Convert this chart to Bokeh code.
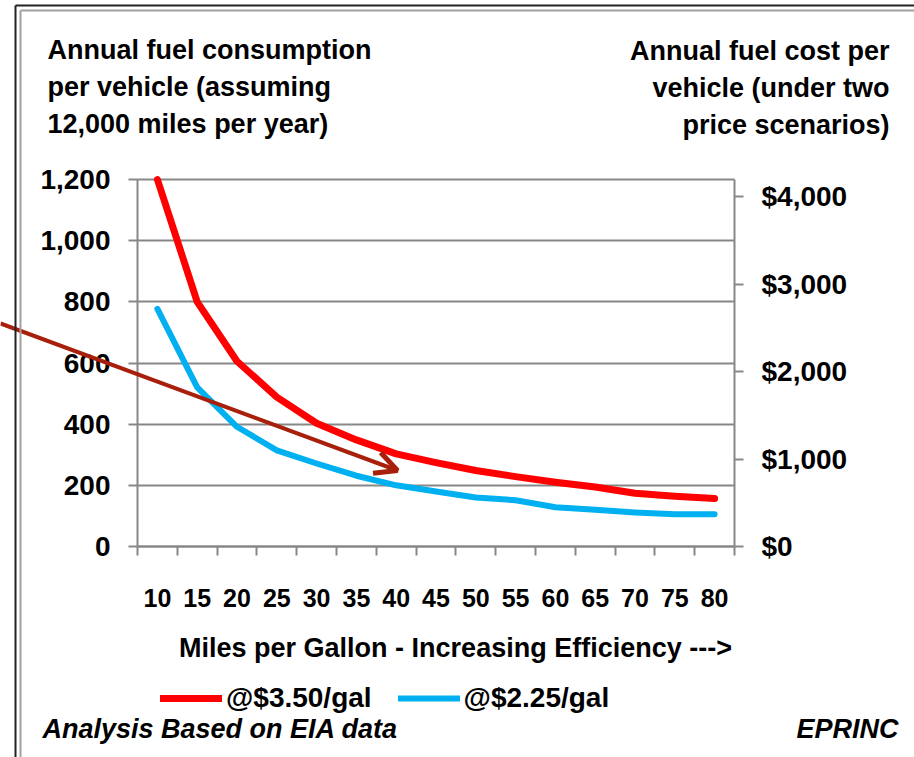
from bokeh.plotting import figure
from bokeh.models import (Range1d, LinearAxis, FixedTicker, NumeralTickFormatter, Label,
                          Arrow, OpenHead, Legend, LegendItem, ColumnDataSource, Grid)
from bokeh.embed import file_html
from bokeh.resources import INLINE

# ---------------- data ----------------
mpg = [10, 15, 20, 25, 30, 35, 40, 45, 50, 55, 60, 65, 70, 75, 80]
cost_350 = [4200, 2800, 2120, 1710, 1410, 1220, 1060, 960, 870, 800, 735, 680, 610, 575, 550]
cost_225 = [2720, 1820, 1370, 1100, 950, 810, 700, 630, 560, 530, 450, 420, 390, 370, 368]
series_labels = ["@$3.50/gal", "@$2.25/gal"]
gallon_ticks = [0, 200, 400, 600, 800, 1000, 1200]
cost_ticks = [0, 1000, 2000, 3000, 4000]
gallon_max = 1200
cost_max = 4200

title_left = ["Annual fuel consumption", "per vehicle (assuming", "12,000 miles per year)"]
title_right = ["Annual fuel cost per", "vehicle (under two", "price scenarios)"]
x_title = "Miles per Gallon - Increasing Efficiency --->"
source_note = "Analysis Based on EIA data"
credit = "EPRINC"

# ---------------- layout / style ----------------
FONT = "Liberation Sans"
GRAY = "#878787"
RED = "#FF0000"
BLUE = "#00B0F0"
ARROW = "#A8200C"

W, H = 914, 757
# pixel box of the plotting area inside the canvas
PL, PR, PT, PB = 137, 734, 179, 546

x_lo, x_hi = mpg[0] - 2.5, mpg[-1] + 2.5
xs = (x_hi - x_lo) / (PR - PL)          # data units per pixel
ys = gallon_max / (PB - PT)
cs = cost_max / (PB - PT)

p = figure(width=W, height=H, output_backend="svg", toolbar_location=None,
           x_range=Range1d(x_lo - PL * xs, x_hi + (W - PR) * xs),
           y_range=Range1d(-(H - PB) * ys, gallon_max + PT * ys),
           min_border=0, min_border_left=0, min_border_right=0, min_border_top=0,
           min_border_bottom=0, x_axis_location=None, y_axis_location=None,
           background_fill_color="white", border_fill_color="white", outline_line_color=None)
p.extra_y_ranges = {"cost": Range1d(-(H - PB) * cs, cost_max + PT * cs)}
p.center = [r for r in p.center if not isinstance(r, Grid)]


def style_axis(ax, size="28px"):
    ax.axis_line_color = GRAY
    ax.axis_line_width = 2
    ax.major_tick_line_color = GRAY
    ax.major_tick_line_width = 2
    ax.major_tick_out = 9
    ax.major_tick_in = 0
    ax.minor_tick_line_color = None
    ax.major_label_text_font = FONT
    ax.major_label_text_font_size = size
    ax.major_label_text_font_style = "bold"
    ax.major_label_text_color = "black"


yl = LinearAxis(ticker=FixedTicker(ticks=gallon_ticks), formatter=NumeralTickFormatter(format="0,0"),
                fixed_location=x_lo, bounds=(0, gallon_max))
style_axis(yl)
yl.major_label_standoff = 18
p.add_layout(yl, "left")

yr = LinearAxis(y_range_name="cost", ticker=FixedTicker(ticks=cost_ticks),
                formatter=NumeralTickFormatter(format="$0,0"), fixed_location=x_hi,
                bounds=(0, cost_max))
style_axis(yr)
yr.major_label_standoff = 18
p.add_layout(yr, "right")

bounds = [m - 2.5 for m in mpg] + [mpg[-1] + 2.5]
xb = LinearAxis(ticker=FixedTicker(ticks=mpg, minor_ticks=bounds), fixed_location=0,
                bounds=(x_lo, x_hi))
style_axis(xb, "25px")
xb.major_tick_line_color = None
xb.major_tick_out = 0
xb.minor_tick_line_color = GRAY
xb.minor_tick_line_width = 2
xb.minor_tick_out = 9
xb.minor_tick_in = 0
xb.major_label_standoff = 33
p.add_layout(xb, "below")

if "cross_bounds" in Grid.properties():
    g = Grid(dimension=1, ticker=FixedTicker(ticks=gallon_ticks), grid_line_color=GRAY,
             grid_line_width=2, bounds=(0, gallon_max), cross_bounds=(x_lo, x_hi))
    p.add_layout(g)
else:
    p.segment(x0=[x_lo] * len(gallon_ticks), x1=[x_hi] * len(gallon_ticks), y0=gallon_ticks,
              y1=gallon_ticks, line_color=GRAY, line_width=2)

src = ColumnDataSource(dict(mpg=mpg, c350=cost_350, c225=cost_225))
r1 = p.line("mpg", "c350", source=src, y_range_name="cost", line_color=RED, line_width=7,
            line_cap="round", line_join="round")
r2 = p.line("mpg", "c225", source=src, y_range_name="cost", line_color=BLUE, line_width=6,
            line_cap="round", line_join="round")


def sx(px):
    return px


def sy(py):
    return H - py


leg = Legend(items=[LegendItem(label=series_labels[0], renderers=[r1]),
                    LegendItem(label=series_labels[1], renderers=[r2])],
             orientation="horizontal", location=(sx(160), sy(714)),
             glyph_width=62, glyph_height=20, label_standoff=4, spacing=26,
             label_text_font=FONT, label_text_font_size="28px", label_text_font_style="bold",
             label_text_color="black", border_line_color=None, background_fill_alpha=0,
             padding=0, margin=0)
p.add_layout(leg)


def add_label(text, px, py, align="left", size="27px", style="bold", baseline="middle"):
    p.add_layout(Label(x=sx(px), y=sy(py), x_units="screen", y_units="screen", text=text,
                       text_font=FONT, text_font_size=size, text_font_style=style,
                       text_color="black", text_align=align, text_baseline=baseline))


for i, t in enumerate(title_left):
    add_label(t, 47, 49 + 37 * i)
for i, t in enumerate(title_right):
    add_label(t, 889, 50 + 37 * i, align="right")

add_label(x_title, 455, 647, align="center", size="27px")
add_label(source_note, 42, 728, size="27px", style="bold italic")
add_label(credit, 898, 728, align="right", size="27px", style="bold italic")

# annotation arrow
p.add_layout(Arrow(x_start=sx(0), y_start=sy(323), x_end=sx(397), y_end=sy(470),
                   start_units="screen", end_units="screen", line_color=ARROW, line_width=4,
                   end=OpenHead(size=22, line_color=ARROW, line_width=5)))

# outer double border (left and top)
for (x0, y0, x1, y1, c, w) in [(15, 5, 15, 760, "#222222", 2), (20, 10, 20, 760, "#A0A0A0", 2),
                               (15, 5, 920, 5, "#222222", 2), (20, 10, 920, 10, "#A0A0A0", 2)]:
    p.add_layout(Arrow(x_start=sx(x0), y_start=sy(y0), x_end=sx(x1), y_end=sy(y1),
                       start_units="screen", end_units="screen", line_color=c, line_width=w,
                       end=None))

open("out.html", "w").write(file_html(p, INLINE))
